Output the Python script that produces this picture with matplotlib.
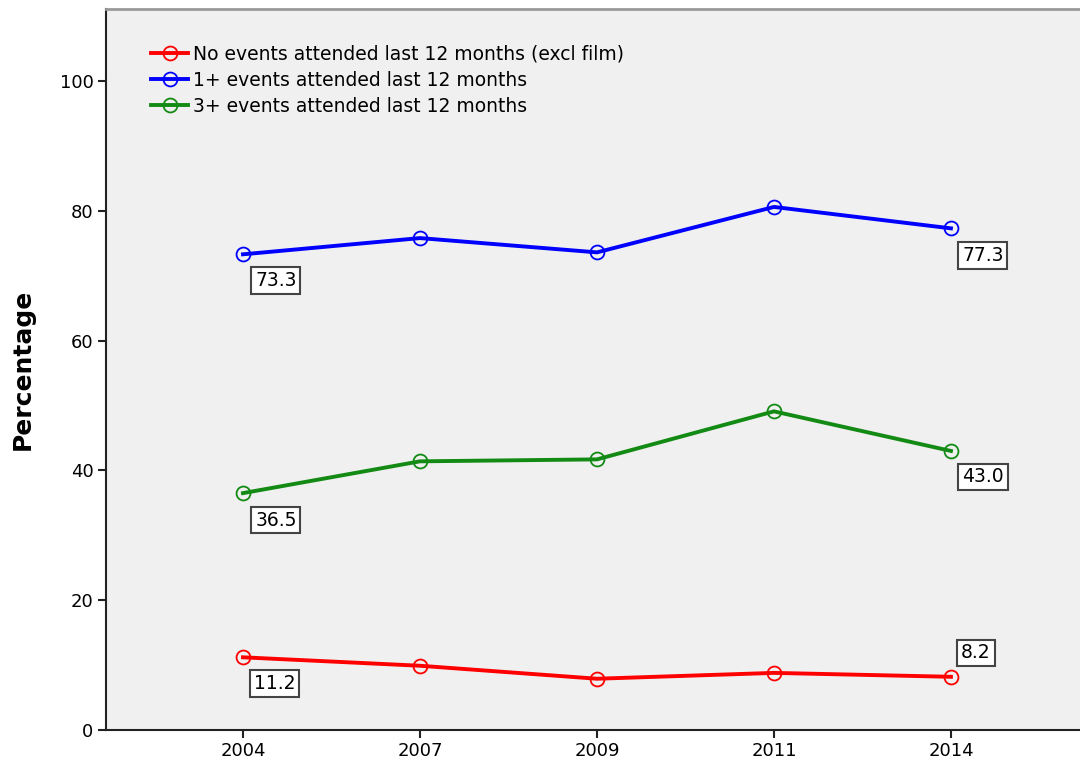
import matplotlib
matplotlib.use("Agg")
from matplotlib import pyplot as plt
import numpy as np

years = ["2004", "2007", "2009", "2011", "2014"]
no_events = [11.2, 9.9, 7.9, 8.8, 8.2]
one_plus = [73.3, 75.8, 73.6, 80.6, 77.3]
three_plus = [36.5, 41.4, 41.7, 49.1, 43.0]

series_names = [
    "No events attended last 12 months (excl film)",
    "1+ events attended last 12 months",
    "3+ events attended last 12 months",
]
series_colors = ["#ff0000", "#0000ff", "#138a13"]

plt.rcParams["font.family"] = ["DejaVu Sans"]

fig = plt.figure(figsize=(10.8, 7.69), dpi=100)
# axes runs a bit past the right edge, like the cropped original
ax = fig.add_axes([106 / 1080, 1 - 730 / 769, 983 / 1080, 721 / 769])
ax.set_facecolor("#f0f0f0")

x = np.arange(len(years))
for vals, name, c in zip([no_events, one_plus, three_plus], series_names, series_colors):
    ax.plot(x, vals, color=c, linewidth=2.8, marker="o", markersize=10,
            markerfacecolor="none", markeredgecolor=c, markeredgewidth=1.3,
            label=name)

# value labels on first and last points
box = dict(boxstyle="square,pad=0.2", facecolor="white", edgecolor="#444444", linewidth=1.5)
labels = [
    (0, one_plus[0], (33, -26)),
    (4, one_plus[4], (32, -27)),
    (0, three_plus[0], (33, -27)),
    (4, three_plus[4], (32, -26)),
    (0, no_events[0], (32, -26)),
    (4, no_events[4], (25, 24)),
]
for xi, v, off in labels:
    ax.annotate("%.1f" % v, (xi, v), xytext=off, textcoords="offset pixels",
                ha="center", va="center", fontsize=13.5, bbox=box)

ax.set_xlim(-0.774, 4.78)
ax.set_ylim(0, 111.1)
ax.set_xticks(x)
ax.set_xticklabels(years)
ax.set_yticks(np.arange(0, 101, 20))
ax.tick_params(axis="both", direction="out", length=6, width=1.5, labelsize=13,
               color="#222222", pad=3)
ax.set_ylabel("Percentage", fontsize=18, fontweight="bold", labelpad=18)

for s in ["left", "bottom"]:
    ax.spines[s].set_linewidth(1.5)
    ax.spines[s].set_color("#222222")
ax.spines["top"].set_color("#999999")
ax.spines["top"].set_linewidth(2)
ax.spines["right"].set_visible(False)

ax.legend(loc="upper left", bbox_to_anchor=(0.038, 0.961), frameon=False, fontsize=13.5,
          handlelength=2.0, handletextpad=0.25, labelspacing=0.38, borderaxespad=0)

fig.savefig("out.png", dpi=100)
